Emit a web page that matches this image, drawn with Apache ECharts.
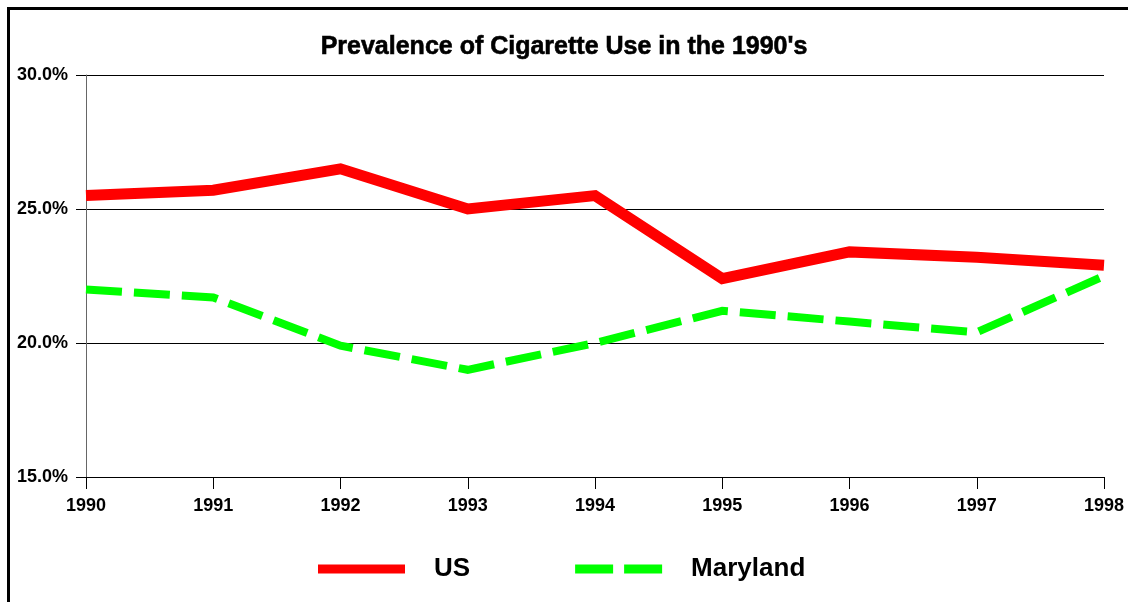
<!DOCTYPE html>
<html>
<head>
<meta charset="utf-8">
<script src="https://cdn.jsdelivr.net/npm/echarts@6/dist/echarts.min.js"></script>
<style>
  html, body { margin: 0; padding: 0; background: #fff; overflow: hidden; }
  #frame { position: absolute; left: 7px; top: 7px; width: 1200px; height: 700px; border: 3px solid #000; box-sizing: border-box; }
  #chart { position: absolute; left: 0; top: 0; width: 1128px; height: 602px; }
</style>
</head>
<body>
<div id="frame"></div>
<div id="chart"></div>
<script>
const years = ['1990', '1991', '1992', '1993', '1994', '1995', '1996', '1997', '1998']
const usValues = [25.5, 25.7, 26.5, 25.0, 25.5, 22.4, 23.4, 23.2, 22.9]
const marylandValues = [22.0, 21.7, 19.9, 19.0, 20.0, 21.2, 20.8, 20.4, 22.5]

const font = 'Liberation Sans, Arial, sans-serif'
const chart = echarts.init(document.getElementById('chart'))

chart.setOption({
  animation: false,
  title: {
    text: "Prevalence of Cigarette Use in the 1990's",
    left: 'center',
    top: 30,
    textStyle: {
      fontFamily: font, fontSize: 25, fontWeight: 'bold', color: '#000',
      textBorderColor: '#000', textBorderWidth: 0.6
    }
  },
  grid: { left: 86, right: 24, top: 75, bottom: 125 },
  legend: {
    top: 551,
    left: 313,
    itemWidth: 87,
    itemHeight: 9,
    itemGap: 105,
    symbolKeepAspect: false,
    textStyle: { fontFamily: font, fontSize: 26, fontWeight: 'bold', color: '#000', padding: [0, 0, 0, 24] },
    data: [
      { name: 'US', icon: 'rect' },
      { name: 'Maryland', icon: 'path://M0,0h38v9h-38z M49,0h38v9h-38z' }
    ]
  },
  xAxis: {
    type: 'category',
    data: years,
    boundaryGap: false,
    axisLine: { lineStyle: { color: '#000', width: 1 } },
    axisTick: { show: true, length: 12, alignWithLabel: true, lineStyle: { color: '#000' } },
    axisLabel: { margin: 20, fontFamily: font, fontSize: 18, fontWeight: 'bold', color: '#000' }
  },
  yAxis: {
    type: 'value',
    min: 15,
    max: 30,
    interval: 5,
    axisLine: { show: true, lineStyle: { color: '#666', width: 1 } },
    axisTick: { show: true, length: 10, lineStyle: { color: '#000' } },
    splitLine: { lineStyle: { color: '#000', width: 1 } },
    axisLabel: {
      margin: 18,
      formatter: (v) => v.toFixed(1) + '%',
      fontFamily: font, fontSize: 18, fontWeight: 'bold', color: '#000'
    }
  },
  series: [
    {
      name: 'US',
      type: 'line',
      data: usValues,
      symbol: 'none',
      color: '#ff0000',
      lineStyle: { width: 11, color: '#ff0000', cap: 'butt', join: 'miter' }
    },
    {
      name: 'Maryland',
      type: 'line',
      data: marylandValues,
      symbol: 'none',
      color: '#00ff00',
      lineStyle: { width: 8, color: '#00ff00', type: [36, 12], cap: 'butt', join: 'miter' }
    }
  ]
})
</script>
</body>
</html>
